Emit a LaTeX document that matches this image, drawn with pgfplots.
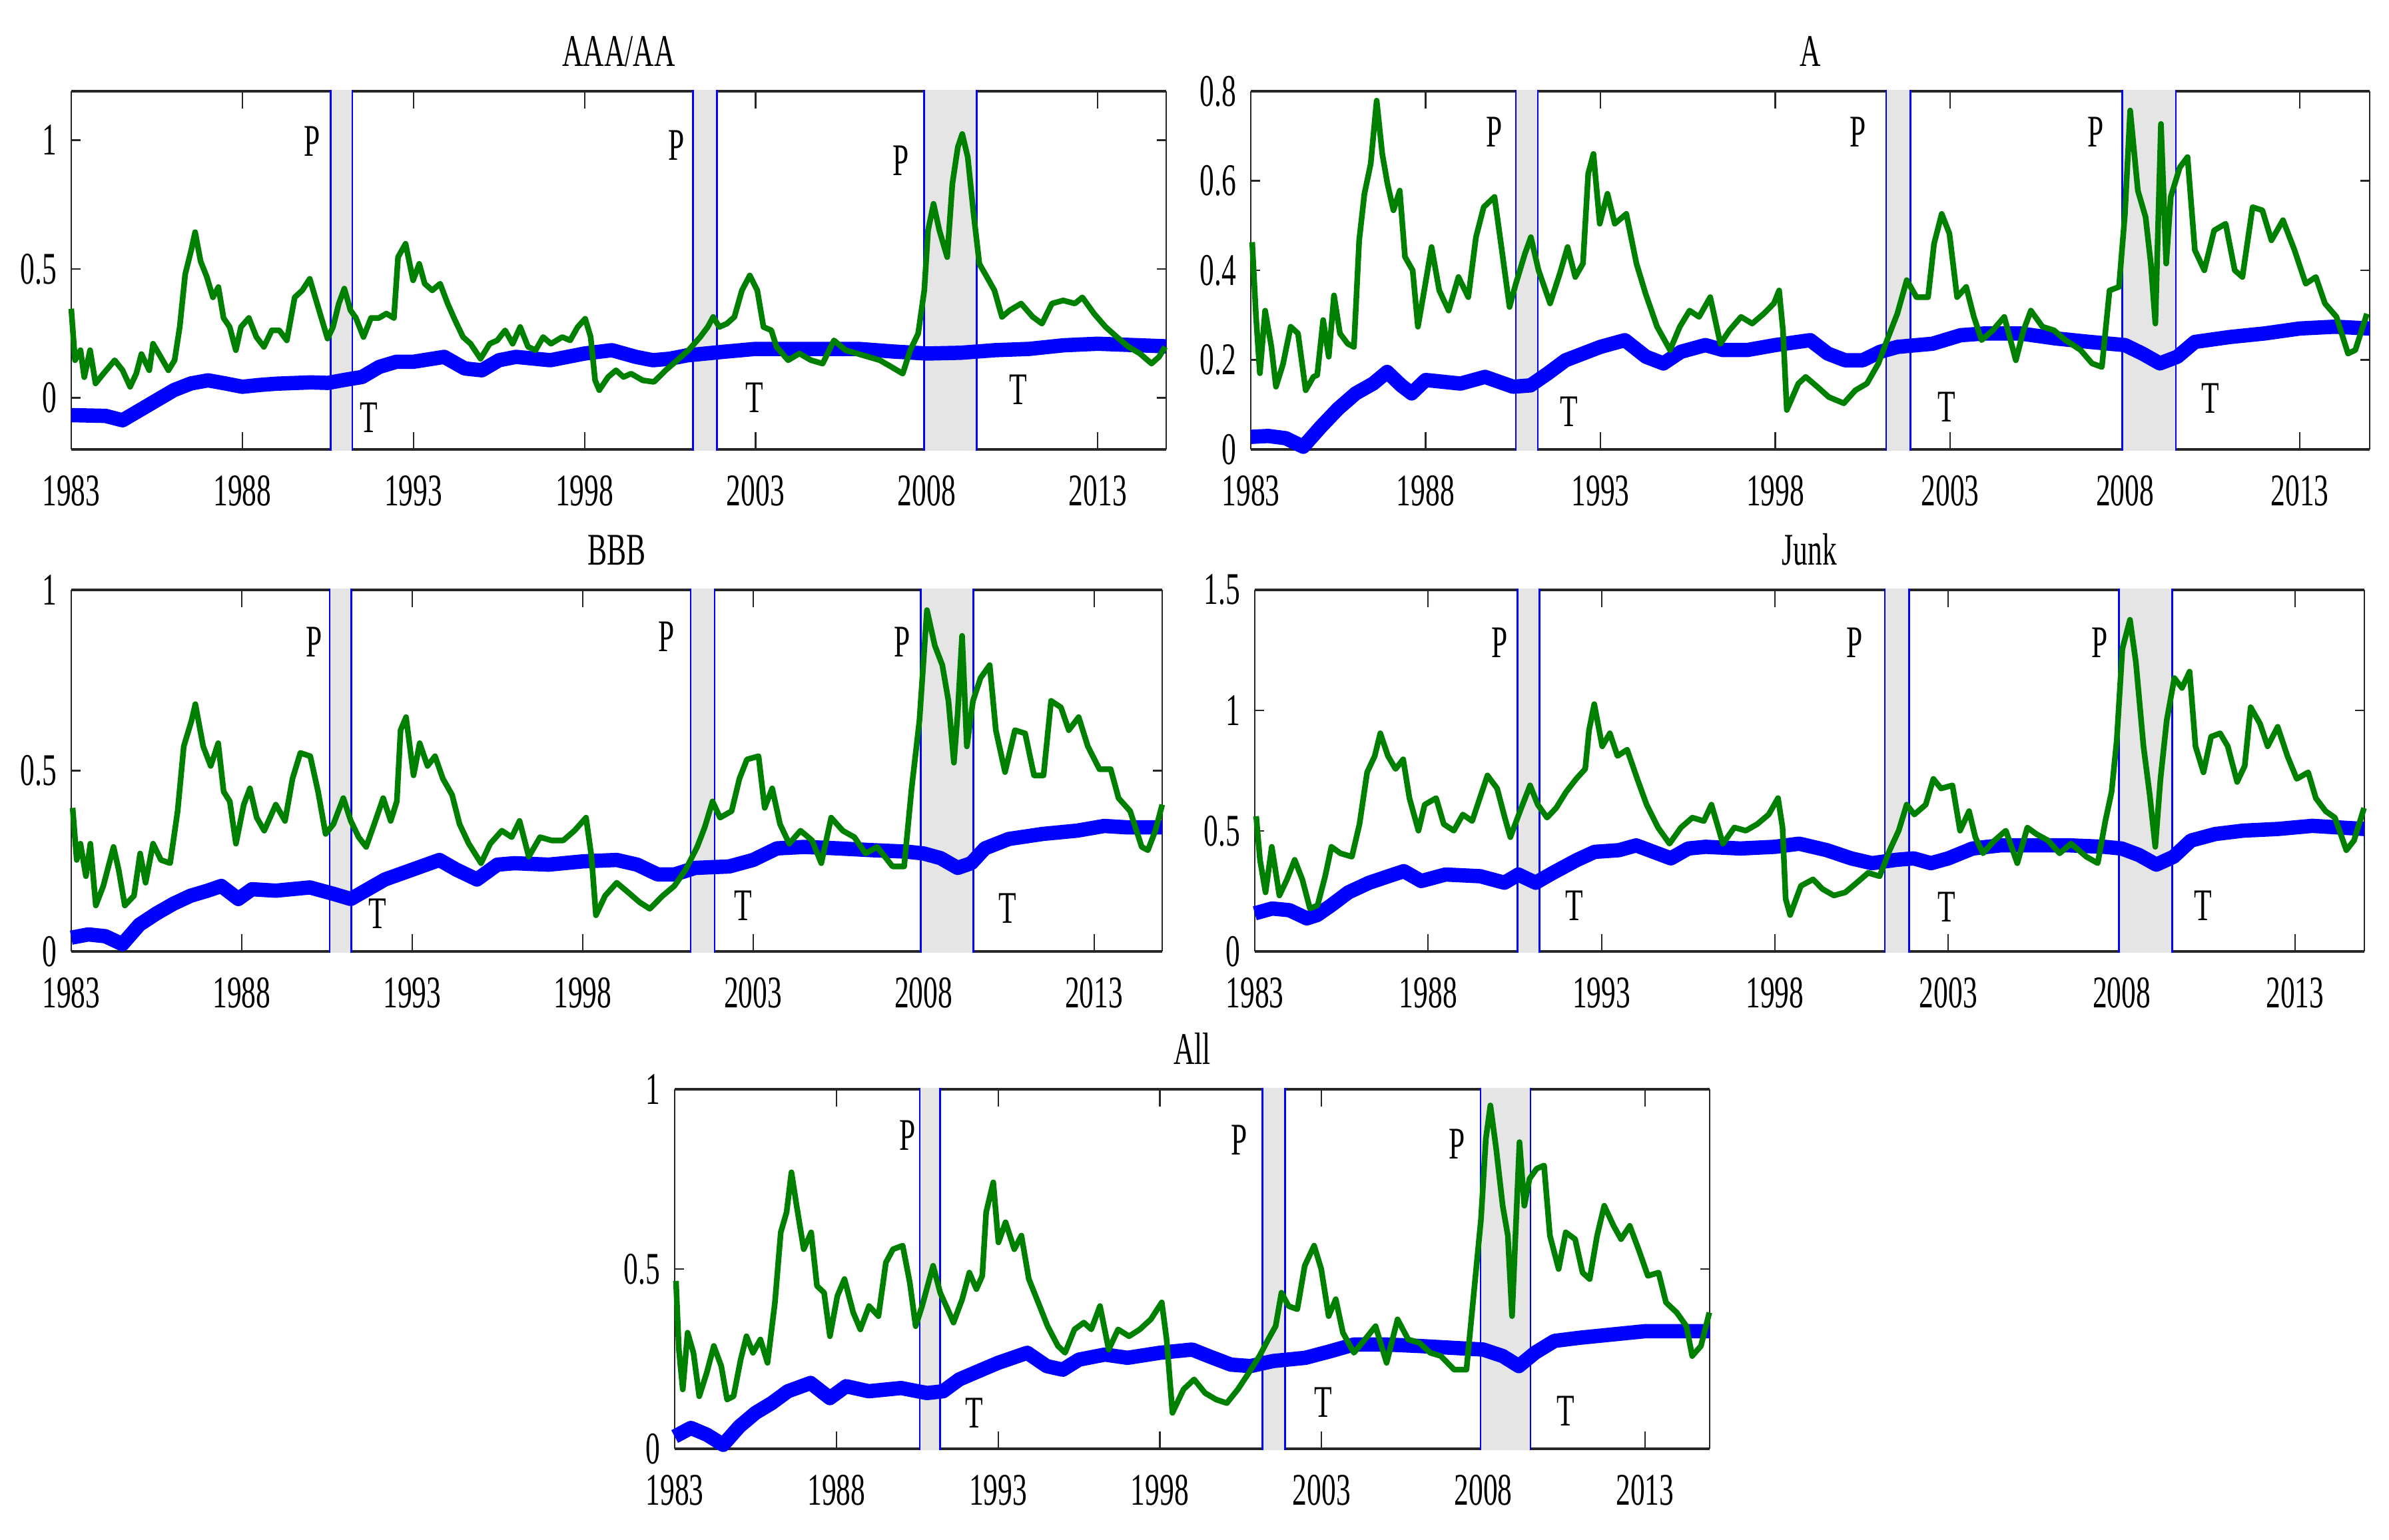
\documentclass[border=0pt]{standalone}
\usepackage{fontspec}
\setmainfont{Liberation Serif}[FakeStretch=0.64]
\usepackage{pgfplots}
\pgfplotsset{compat=1.18}
\definecolor{mgreen}{rgb}{0,0.5,0}
\definecolor{bandgray}{gray}{0.9}
\definecolor{axgray}{gray}{0.15}
\newcommand\ff{\fontsize{13.6}{16}\selectfont}
\newcommand\band[4]{%
  \fill[bandgray] ([yshift=-0.45pt]axis cs:#1,#3) rectangle ([yshift=0.45pt]axis cs:#2,#4);
  \draw[blue, line width=0.5pt] ([yshift=-0.45pt]axis cs:#1,#3) -- ([yshift=0.45pt]axis cs:#1,#4);
  \draw[blue, line width=0.5pt] ([yshift=-0.45pt]axis cs:#2,#3) -- ([yshift=0.45pt]axis cs:#2,#4);}
\newcommand\bands[2]{\band{1990.58}{1991.21}{#1}{#2}\band{2001.17}{2001.87}{#1}{#2}\band{2007.92}{2009.46}{#1}{#2}}
\pgfplotsset{
  panel/.style={
    scale only axis, anchor=south west, clip=false,
    xmin=1983, xmax=2015,
    xtick={1983,1988,1993,1998,2003,2008,2013},
    /pgf/number format/1000 sep={},
    /pgf/number format/assume math mode=true,
    tick label style={font=\ff},
    xticklabel style={anchor=north, inner sep=0pt, yshift=-7.7pt},
    yticklabel style={anchor=east, inner sep=0pt, xshift=-4.2pt},
    tick align=inside,
    separate axis lines,
    x axis line style={line width=0.75pt, color=axgray},
    y axis line style={line width=0.5pt, color=axgray},
    major tick style={line width=0.45pt, color=axgray},
    xtick style={/pgfplots/major tick length=5.2pt},
    ytick style={/pgfplots/major tick length=2.8pt},
    minor tick num=0,
  },
  gline/.style={color=mgreen, line width=1.7pt, line join=round, no markers},
  bline/.style={color=blue, line width=4.3pt, line join=round, no markers},
}
\begin{document}
\begin{tikzpicture}
\useasboundingbox (0,0) rectangle (717.4pt,462.6pt);
% ---------------- AAA/AA ----------------
\begin{axis}[panel, at={(21.4pt,327.6pt)}, width=328.8pt, height=107.6pt,
  ymin=-0.2, ymax=1.19, ytick={0,0.5,1}]
\bands{-0.2}{1.19}
\addplot[bline] coordinates {
(1983.0,-0.067)(1984.0,-0.07)(1984.5,-0.087)(1985.0,-0.048)(1985.5,-0.009)(1986.0,0.03)(1986.5,0.056)(1987.0,0.068)(1987.5,0.056)(1988.0,0.043)(1988.5,0.05)(1989.0,0.055)(1990.0,0.06)(1990.5,0.058)(1991.0,0.07)(1991.5,0.081)(1992.0,0.12)(1992.5,0.14)(1993.0,0.14)(1993.9,0.159)(1994.5,0.114)(1995.0,0.107)(1995.5,0.146)(1996.0,0.159)(1997.0,0.146)(1998.0,0.172)(1998.8,0.185)(1999.5,0.159)(2000.0,0.146)(2000.5,0.152)(2001.0,0.165)(2002.0,0.178)(2003.0,0.19)(2004.0,0.19)(2005.0,0.19)(2006.0,0.19)(2007.0,0.18)(2008.0,0.172)(2009.0,0.175)(2010.0,0.185)(2011.0,0.19)(2012.0,0.204)(2013.0,0.21)(2014.0,0.205)(2015.0,0.2)};
\addplot[gline] coordinates {
(1983.0,0.346)(1983.11,0.146)(1983.27,0.185)(1983.38,0.08)(1983.55,0.185)(1983.71,0.056)(1983.94,0.094)(1984.27,0.146)(1984.5,0.107)(1984.72,0.043)(1984.9,0.094)(1985.05,0.17)(1985.28,0.107)(1985.39,0.21)(1985.61,0.16)(1985.84,0.107)(1986.02,0.146)(1986.17,0.275)(1986.33,0.48)(1986.5,0.57)(1986.62,0.643)(1986.78,0.53)(1986.96,0.47)(1987.14,0.39)(1987.3,0.43)(1987.45,0.31)(1987.63,0.275)(1987.81,0.185)(1987.96,0.275)(1988.19,0.31)(1988.41,0.236)(1988.63,0.198)(1988.86,0.262)(1989.08,0.262)(1989.3,0.223)(1989.53,0.39)(1989.75,0.417)(1989.97,0.462)(1990.13,0.39)(1990.31,0.31)(1990.49,0.23)(1990.65,0.275)(1990.82,0.366)(1990.98,0.424)(1991.16,0.34)(1991.32,0.31)(1991.54,0.236)(1991.76,0.31)(1991.99,0.31)(1992.21,0.327)(1992.43,0.31)(1992.55,0.546)(1992.77,0.598)(1992.99,0.456)(1993.17,0.52)(1993.33,0.443)(1993.55,0.417)(1993.78,0.443)(1994.0,0.366)(1994.22,0.3)(1994.45,0.236)(1994.67,0.21)(1994.96,0.152)(1995.23,0.21)(1995.45,0.223)(1995.68,0.262)(1995.9,0.21)(1996.12,0.275)(1996.35,0.198)(1996.57,0.185)(1996.79,0.236)(1997.02,0.21)(1997.35,0.236)(1997.58,0.223)(1997.8,0.275)(1998.02,0.307)(1998.18,0.236)(1998.31,0.068)(1998.43,0.03)(1998.69,0.081)(1998.92,0.107)(1999.14,0.081)(1999.36,0.094)(1999.7,0.068)(2000.03,0.062)(2000.37,0.107)(2000.71,0.146)(2001.04,0.185)(2001.38,0.236)(2001.6,0.275)(2001.76,0.314)(2001.94,0.275)(2002.16,0.288)(2002.38,0.314)(2002.6,0.417)(2002.83,0.475)(2003.05,0.417)(2003.23,0.275)(2003.46,0.262)(2003.61,0.198)(2003.95,0.146)(2004.28,0.172)(2004.62,0.146)(2004.96,0.133)(2005.29,0.223)(2005.63,0.185)(2005.96,0.172)(2006.3,0.159)(2006.63,0.146)(2006.97,0.12)(2007.3,0.094)(2007.52,0.185)(2007.75,0.249)(2007.93,0.417)(2008.04,0.65)(2008.2,0.753)(2008.37,0.65)(2008.6,0.546)(2008.75,0.83)(2008.91,0.973)(2009.04,1.024)(2009.2,0.934)(2009.36,0.727)(2009.54,0.52)(2009.76,0.469)(2009.98,0.417)(2010.2,0.314)(2010.43,0.34)(2010.76,0.366)(2011.1,0.314)(2011.37,0.288)(2011.66,0.366)(2011.99,0.378)(2012.33,0.366)(2012.55,0.39)(2012.89,0.327)(2013.23,0.275)(2013.56,0.236)(2013.9,0.198)(2014.23,0.172)(2014.57,0.133)(2014.79,0.159)(2014.97,0.198)};
\node[font=\ff] at (axis cs:1990.04,0.996) {P};
\node[font=\ff] at (axis cs:2000.68,0.98) {P};
\node[font=\ff] at (axis cs:2007.25,0.92) {P};
\node[font=\ff] at (axis cs:1991.7,-0.076) {T};
\node[font=\ff] at (axis cs:2002.96,0.0) {T};
\node[font=\ff] at (axis cs:2010.67,0.033) {T};
\node[font=\ff, anchor=south, inner sep=0pt] at (rel axis cs:0.5,1) [yshift=7.2pt] {AAA/AA};
\end{axis}
% ---------------- A ----------------
\begin{axis}[panel, at={(375.6pt,327.6pt)}, width=336pt, height=107.6pt,
  ymin=0, ymax=0.8, ytick={0,0.2,0.4,0.6,0.8}]
\bands{0}{0.8}
\addplot[bline] coordinates {
(1983.0,0.028)(1983.5,0.03)(1984.0,0.025)(1984.5,0.006)(1985.0,0.05)(1985.5,0.091)(1986.0,0.125)(1986.5,0.147)(1986.9,0.173)(1987.3,0.143)(1987.6,0.125)(1988.0,0.155)(1989.0,0.147)(1989.7,0.162)(1990.5,0.14)(1991.0,0.143)(1991.5,0.17)(1992.0,0.199)(1992.5,0.214)(1993.0,0.229)(1993.7,0.244)(1994.3,0.207)(1994.8,0.192)(1995.3,0.218)(1996.0,0.233)(1996.5,0.222)(1997.2,0.222)(1998.0,0.233)(1999.0,0.244)(1999.5,0.214)(2000.0,0.199)(2000.5,0.199)(2001.0,0.218)(2001.5,0.229)(2002.5,0.236)(2003.3,0.255)(2004.0,0.259)(2005.0,0.259)(2006.0,0.248)(2007.0,0.24)(2008.0,0.233)(2008.5,0.214)(2009.0,0.192)(2009.5,0.207)(2010.0,0.24)(2011.0,0.251)(2012.0,0.259)(2013.0,0.27)(2014.0,0.274)(2015.0,0.27)};
\addplot[gline] coordinates {
(1983.04,0.463)(1983.15,0.296)(1983.26,0.17)(1983.41,0.31)(1983.59,0.229)(1983.72,0.14)(1983.92,0.19)(1984.14,0.274)(1984.35,0.259)(1984.57,0.132)(1984.79,0.162)(1984.9,0.166)(1985.07,0.289)(1985.23,0.207)(1985.38,0.344)(1985.55,0.259)(1985.77,0.236)(1985.95,0.229)(1986.1,0.467)(1986.25,0.571)(1986.43,0.638)(1986.6,0.779)(1986.76,0.66)(1986.91,0.593)(1987.08,0.534)(1987.26,0.578)(1987.41,0.43)(1987.63,0.4)(1987.78,0.274)(1987.96,0.355)(1988.17,0.452)(1988.39,0.355)(1988.66,0.31)(1988.94,0.385)(1989.22,0.34)(1989.44,0.474)(1989.66,0.541)(1989.97,0.564)(1990.18,0.445)(1990.4,0.318)(1990.58,0.37)(1990.84,0.437)(1991.01,0.474)(1991.23,0.4)(1991.56,0.326)(1991.84,0.393)(1992.06,0.452)(1992.28,0.385)(1992.5,0.415)(1992.65,0.616)(1992.8,0.66)(1992.98,0.504)(1993.2,0.571)(1993.41,0.504)(1993.74,0.526)(1994.03,0.415)(1994.29,0.348)(1994.62,0.274)(1994.99,0.222)(1995.27,0.274)(1995.55,0.31)(1995.82,0.296)(1996.14,0.34)(1996.43,0.236)(1996.69,0.266)(1997.02,0.296)(1997.34,0.281)(1997.67,0.303)(1997.96,0.326)(1998.11,0.355)(1998.22,0.266)(1998.33,0.088)(1998.66,0.147)(1998.87,0.162)(1999.2,0.14)(1999.53,0.117)(1999.96,0.103)(2000.29,0.132)(2000.62,0.147)(2000.95,0.192)(2001.23,0.251)(2001.49,0.303)(2001.76,0.378)(2002.04,0.34)(2002.37,0.34)(2002.54,0.459)(2002.76,0.526)(2002.98,0.482)(2003.2,0.34)(2003.46,0.363)(2003.68,0.296)(2003.9,0.244)(2004.22,0.266)(2004.55,0.296)(2004.88,0.199)(2005.1,0.266)(2005.31,0.31)(2005.64,0.274)(2005.97,0.266)(2006.3,0.244)(2006.73,0.222)(2007.06,0.192)(2007.34,0.184)(2007.56,0.355)(2007.83,0.363)(2008.0,0.526)(2008.15,0.757)(2008.37,0.578)(2008.59,0.519)(2008.74,0.415)(2008.87,0.281)(2009.03,0.727)(2009.18,0.415)(2009.31,0.564)(2009.57,0.63)(2009.79,0.653)(2010.0,0.445)(2010.27,0.4)(2010.55,0.489)(2010.88,0.504)(2011.14,0.4)(2011.36,0.385)(2011.65,0.541)(2011.93,0.534)(2012.19,0.467)(2012.52,0.512)(2012.85,0.445)(2013.17,0.37)(2013.46,0.385)(2013.72,0.326)(2014.05,0.296)(2014.38,0.214)(2014.59,0.222)(2014.92,0.303)};
\node[font=\ff] at (axis cs:1989.97,0.709) {P};
\node[font=\ff] at (axis cs:2000.36,0.709) {P};
\node[font=\ff] at (axis cs:2007.17,0.709) {P};
\node[font=\ff] at (axis cs:1992.1,0.084) {T};
\node[font=\ff] at (axis cs:2002.9,0.095) {T};
\node[font=\ff] at (axis cs:2010.44,0.114) {T};
\node[font=\ff, anchor=south, inner sep=0pt] at (rel axis cs:0.5,1) [yshift=7.2pt] {A};
\end{axis}
% ---------------- BBB ----------------
\begin{axis}[panel, at={(21.4pt,176.8pt)}, width=327.6pt, height=108.6pt,
  ymin=0, ymax=1, ytick={0,0.5,1}]
\bands{0}{1}
\addplot[bline] coordinates {
(1983.0,0.038)(1983.5,0.047)(1984.0,0.042)(1984.5,0.02)(1985.0,0.074)(1985.5,0.105)(1986.0,0.132)(1986.5,0.154)(1987.0,0.168)(1987.4,0.181)(1987.9,0.145)(1988.3,0.172)(1989.0,0.168)(1990.0,0.177)(1990.7,0.159)(1991.2,0.145)(1991.7,0.172)(1992.2,0.199)(1993.0,0.226)(1993.8,0.253)(1994.3,0.226)(1994.9,0.199)(1995.5,0.24)(1996.0,0.244)(1997.0,0.24)(1998.0,0.249)(1999.0,0.253)(1999.6,0.24)(2000.2,0.213)(2000.7,0.213)(2001.3,0.231)(2002.3,0.235)(2003.0,0.253)(2003.7,0.285)(2004.5,0.289)(2005.5,0.285)(2006.5,0.28)(2007.5,0.276)(2008.0,0.271)(2008.5,0.258)(2009.0,0.231)(2009.4,0.244)(2009.8,0.285)(2010.5,0.311)(2011.5,0.325)(2012.5,0.334)(2013.3,0.347)(2014.0,0.343)(2015.0,0.343)};
\addplot[gline] coordinates {
(1983.04,0.397)(1983.16,0.253)(1983.27,0.298)(1983.43,0.208)(1983.56,0.298)(1983.72,0.127)(1983.94,0.181)(1984.24,0.289)(1984.39,0.226)(1984.57,0.127)(1984.84,0.154)(1985.02,0.271)(1985.18,0.19)(1985.4,0.298)(1985.63,0.253)(1985.9,0.244)(1986.12,0.388)(1986.3,0.567)(1986.53,0.639)(1986.64,0.684)(1986.87,0.567)(1987.09,0.513)(1987.31,0.576)(1987.47,0.442)(1987.65,0.415)(1987.83,0.298)(1988.06,0.406)(1988.24,0.451)(1988.44,0.37)(1988.66,0.334)(1989.0,0.406)(1989.27,0.361)(1989.49,0.478)(1989.72,0.549)(1990.01,0.54)(1990.24,0.442)(1990.46,0.325)(1990.69,0.352)(1990.98,0.424)(1991.2,0.361)(1991.43,0.316)(1991.65,0.289)(1991.92,0.361)(1992.15,0.424)(1992.37,0.361)(1992.55,0.415)(1992.66,0.612)(1992.82,0.648)(1993.04,0.487)(1993.22,0.576)(1993.45,0.513)(1993.67,0.54)(1993.9,0.478)(1994.17,0.433)(1994.39,0.352)(1994.66,0.298)(1995.02,0.244)(1995.29,0.298)(1995.63,0.334)(1995.92,0.316)(1996.15,0.361)(1996.42,0.262)(1996.75,0.316)(1997.09,0.307)(1997.43,0.307)(1997.76,0.334)(1998.1,0.37)(1998.26,0.262)(1998.39,0.1)(1998.66,0.154)(1999.0,0.19)(1999.34,0.163)(1999.67,0.136)(1999.97,0.118)(2000.35,0.154)(2000.69,0.181)(2001.02,0.226)(2001.36,0.289)(2001.58,0.343)(2001.81,0.415)(2002.03,0.37)(2002.37,0.388)(2002.6,0.478)(2002.82,0.531)(2003.16,0.54)(2003.34,0.397)(2003.56,0.451)(2003.79,0.352)(2004.06,0.298)(2004.39,0.334)(2004.73,0.307)(2005.0,0.244)(2005.29,0.37)(2005.63,0.334)(2005.97,0.316)(2006.3,0.271)(2006.64,0.289)(2007.09,0.235)(2007.43,0.235)(2007.65,0.451)(2007.88,0.639)(2008.1,0.944)(2008.33,0.846)(2008.55,0.792)(2008.73,0.693)(2008.89,0.522)(2009.0,0.657)(2009.13,0.873)(2009.27,0.567)(2009.45,0.693)(2009.67,0.756)(2009.94,0.792)(2010.12,0.612)(2010.39,0.496)(2010.68,0.612)(2010.98,0.603)(2011.24,0.487)(2011.52,0.487)(2011.74,0.693)(2012.03,0.675)(2012.26,0.612)(2012.55,0.648)(2012.82,0.567)(2013.16,0.504)(2013.49,0.504)(2013.72,0.424)(2014.06,0.388)(2014.4,0.289)(2014.58,0.28)(2014.8,0.334)(2015.0,0.406)};
\node[font=\ff] at (axis cs:1990.12,0.855) {P};
\node[font=\ff] at (axis cs:2000.46,0.87) {P};
\node[font=\ff] at (axis cs:2007.38,0.855) {P};
\node[font=\ff] at (axis cs:1991.99,0.105) {T};
\node[font=\ff] at (axis cs:2002.7,0.127) {T};
\node[font=\ff] at (axis cs:2010.46,0.12) {T};
\node[font=\ff, anchor=south, inner sep=0pt] at (rel axis cs:0.5,1) [yshift=7.2pt] {BBB};
\end{axis}
% ---------------- Junk ----------------
\begin{axis}[panel, at={(376.8pt,176.8pt)}, width=333.2pt, height=108.6pt,
  ymin=0, ymax=1.5, ytick={0,0.5,1,1.5}]
\bands{0}{1.5}
\addplot[bline] coordinates {
(1983.0,0.158)(1983.5,0.178)(1984.0,0.171)(1984.5,0.137)(1984.8,0.151)(1985.2,0.191)(1985.7,0.245)(1986.3,0.285)(1987.0,0.319)(1987.3,0.333)(1987.8,0.292)(1988.5,0.319)(1989.5,0.312)(1990.2,0.285)(1990.6,0.319)(1991.1,0.285)(1991.6,0.326)(1992.3,0.38)(1992.8,0.413)(1993.5,0.42)(1994.0,0.44)(1994.5,0.413)(1995.0,0.386)(1995.5,0.427)(1996.0,0.434)(1997.0,0.427)(1998.0,0.434)(1998.7,0.447)(1999.5,0.42)(2000.2,0.386)(2000.8,0.366)(2001.5,0.38)(2002.0,0.386)(2002.5,0.366)(2003.0,0.386)(2003.7,0.427)(2004.5,0.44)(2005.5,0.44)(2006.5,0.44)(2007.5,0.434)(2008.0,0.427)(2008.5,0.4)(2009.0,0.36)(2009.5,0.393)(2010.0,0.46)(2010.7,0.487)(2011.5,0.501)(2012.5,0.508)(2013.5,0.521)(2014.3,0.514)(2015.0,0.508)};
\addplot[gline] coordinates {
(1983.04,0.561)(1983.15,0.38)(1983.31,0.245)(1983.49,0.434)(1983.71,0.232)(1983.93,0.299)(1984.15,0.38)(1984.37,0.299)(1984.59,0.178)(1984.81,0.191)(1985.03,0.312)(1985.21,0.434)(1985.47,0.407)(1985.8,0.393)(1986.02,0.528)(1986.24,0.743)(1986.46,0.811)(1986.62,0.905)(1986.84,0.811)(1987.06,0.757)(1987.28,0.797)(1987.46,0.636)(1987.72,0.501)(1987.9,0.609)(1988.23,0.636)(1988.45,0.528)(1988.74,0.501)(1989.0,0.568)(1989.27,0.541)(1989.49,0.636)(1989.71,0.73)(1989.99,0.676)(1990.21,0.555)(1990.37,0.474)(1990.65,0.582)(1990.94,0.689)(1991.16,0.609)(1991.43,0.555)(1991.69,0.595)(1991.98,0.662)(1992.27,0.716)(1992.53,0.757)(1992.64,0.918)(1992.79,1.026)(1993.02,0.851)(1993.24,0.905)(1993.46,0.811)(1993.74,0.837)(1994.03,0.716)(1994.3,0.609)(1994.63,0.514)(1994.96,0.447)(1995.29,0.514)(1995.62,0.555)(1995.95,0.541)(1996.17,0.609)(1996.5,0.447)(1996.83,0.514)(1997.16,0.501)(1997.49,0.528)(1997.82,0.568)(1998.09,0.636)(1998.22,0.514)(1998.31,0.218)(1998.44,0.151)(1998.75,0.272)(1999.1,0.299)(1999.37,0.259)(1999.7,0.232)(2000.03,0.245)(2000.36,0.285)(2000.69,0.326)(2001.02,0.312)(2001.31,0.42)(2001.57,0.501)(2001.8,0.609)(2002.02,0.568)(2002.35,0.609)(2002.57,0.716)(2002.79,0.676)(2003.12,0.689)(2003.34,0.501)(2003.6,0.582)(2003.78,0.474)(2004.0,0.407)(2004.33,0.46)(2004.66,0.501)(2004.99,0.366)(2005.28,0.514)(2005.54,0.487)(2005.88,0.46)(2006.21,0.407)(2006.54,0.447)(2006.98,0.393)(2007.31,0.366)(2007.53,0.541)(2007.71,0.662)(2007.86,0.878)(2008.02,1.255)(2008.24,1.376)(2008.41,1.201)(2008.63,0.851)(2008.81,0.649)(2008.97,0.434)(2009.12,0.716)(2009.3,0.959)(2009.52,1.134)(2009.74,1.093)(2009.96,1.161)(2010.13,0.851)(2010.36,0.743)(2010.58,0.891)(2010.84,0.905)(2011.06,0.851)(2011.33,0.703)(2011.55,0.77)(2011.72,1.013)(2011.99,0.945)(2012.21,0.851)(2012.5,0.932)(2012.78,0.811)(2013.05,0.716)(2013.38,0.743)(2013.6,0.636)(2013.88,0.582)(2014.15,0.555)(2014.48,0.42)(2014.7,0.46)(2014.99,0.595)};
\node[font=\ff] at (axis cs:1990.06,1.282) {P};
\node[font=\ff] at (axis cs:2000.3,1.282) {P};
\node[font=\ff] at (axis cs:2007.36,1.28) {P};
\node[font=\ff] at (axis cs:1992.22,0.191) {T};
\node[font=\ff] at (axis cs:2002.96,0.185) {T};
\node[font=\ff] at (axis cs:2010.35,0.19) {T};
\node[font=\ff, anchor=south, inner sep=0pt] at (rel axis cs:0.5,1) [yshift=7.2pt] {Junk};
\end{axis}
% ---------------- All ----------------
\begin{axis}[panel, at={(202.6pt,27.4pt)}, width=310.8pt, height=108pt,
  ymin=0, ymax=1, ytick={0,0.5,1}]
\bands{0}{1}
\addplot[bline] coordinates {
(1983.0,0.034)(1983.5,0.058)(1984.0,0.039)(1984.5,0.011)(1985.0,0.062)(1985.5,0.1)(1986.0,0.127)(1986.5,0.16)(1987.2,0.183)(1987.8,0.141)(1988.3,0.174)(1989.0,0.16)(1990.0,0.169)(1990.8,0.155)(1991.3,0.16)(1991.8,0.193)(1992.5,0.22)(1993.0,0.239)(1993.9,0.267)(1994.5,0.23)(1995.0,0.22)(1995.5,0.248)(1996.3,0.262)(1997.0,0.253)(1998.0,0.267)(1999.0,0.276)(1999.5,0.258)(2000.2,0.234)(2000.8,0.23)(2001.5,0.244)(2002.5,0.253)(2003.3,0.272)(2004.0,0.29)(2005.0,0.29)(2006.0,0.286)(2007.0,0.281)(2008.0,0.276)(2008.6,0.258)(2009.1,0.23)(2009.6,0.267)(2010.2,0.3)(2011.0,0.309)(2012.0,0.318)(2013.0,0.327)(2014.0,0.327)(2015.0,0.327)};
\addplot[gline] coordinates {
(1983.04,0.467)(1983.13,0.276)(1983.25,0.165)(1983.4,0.323)(1983.58,0.267)(1983.76,0.146)(1983.99,0.211)(1984.21,0.286)(1984.44,0.23)(1984.62,0.137)(1984.82,0.146)(1985.04,0.248)(1985.22,0.313)(1985.42,0.267)(1985.65,0.304)(1985.87,0.239)(1986.1,0.407)(1986.28,0.602)(1986.46,0.658)(1986.61,0.769)(1986.77,0.676)(1986.99,0.555)(1987.22,0.602)(1987.4,0.453)(1987.62,0.434)(1987.8,0.313)(1988.03,0.425)(1988.25,0.472)(1988.52,0.379)(1988.74,0.332)(1989.01,0.397)(1989.3,0.369)(1989.53,0.518)(1989.75,0.555)(1990.05,0.565)(1990.27,0.462)(1990.45,0.341)(1990.65,0.397)(1990.99,0.509)(1991.21,0.434)(1991.44,0.388)(1991.62,0.351)(1991.89,0.416)(1992.11,0.49)(1992.33,0.444)(1992.51,0.481)(1992.63,0.658)(1992.85,0.741)(1993.01,0.574)(1993.23,0.63)(1993.5,0.555)(1993.72,0.593)(1993.95,0.472)(1994.24,0.407)(1994.53,0.341)(1994.85,0.286)(1995.07,0.267)(1995.36,0.332)(1995.65,0.351)(1995.88,0.332)(1996.15,0.397)(1996.42,0.276)(1996.71,0.332)(1997.05,0.313)(1997.38,0.332)(1997.72,0.36)(1998.06,0.407)(1998.21,0.304)(1998.39,0.1)(1998.73,0.165)(1999.06,0.193)(1999.4,0.155)(1999.74,0.137)(2000.07,0.127)(2000.41,0.165)(2000.75,0.211)(2001.08,0.258)(2001.35,0.304)(2001.58,0.341)(2001.76,0.434)(2001.98,0.397)(2002.25,0.388)(2002.48,0.509)(2002.77,0.565)(2002.99,0.5)(2003.22,0.369)(2003.44,0.416)(2003.66,0.323)(2004.0,0.267)(2004.34,0.304)(2004.67,0.341)(2005.01,0.239)(2005.35,0.36)(2005.68,0.304)(2006.02,0.295)(2006.36,0.267)(2006.69,0.258)(2007.1,0.22)(2007.48,0.22)(2007.7,0.425)(2007.93,0.639)(2008.08,0.862)(2008.22,0.955)(2008.4,0.834)(2008.6,0.676)(2008.76,0.593)(2008.89,0.369)(2009.0,0.602)(2009.12,0.853)(2009.27,0.676)(2009.43,0.751)(2009.65,0.779)(2009.88,0.788)(2010.06,0.593)(2010.33,0.5)(2010.55,0.602)(2010.84,0.583)(2011.07,0.49)(2011.29,0.472)(2011.52,0.593)(2011.74,0.676)(2012.03,0.62)(2012.26,0.583)(2012.53,0.62)(2012.8,0.555)(2013.09,0.481)(2013.42,0.49)(2013.65,0.407)(2013.98,0.379)(2014.28,0.341)(2014.46,0.258)(2014.73,0.286)(2014.99,0.379)};
\node[font=\ff] at (axis cs:1990.2,0.872) {P};
\node[font=\ff] at (axis cs:2000.46,0.858) {P};
\node[font=\ff] at (axis cs:2007.19,0.848) {P};
\node[font=\ff] at (axis cs:1992.27,0.1) {T};
\node[font=\ff] at (axis cs:2003.06,0.129) {T};
\node[font=\ff] at (axis cs:2010.55,0.106) {T};
\node[font=\ff, anchor=south, inner sep=0pt] at (rel axis cs:0.5,1) [yshift=7.2pt] {All};
\end{axis}
\end{tikzpicture}
\end{document}
